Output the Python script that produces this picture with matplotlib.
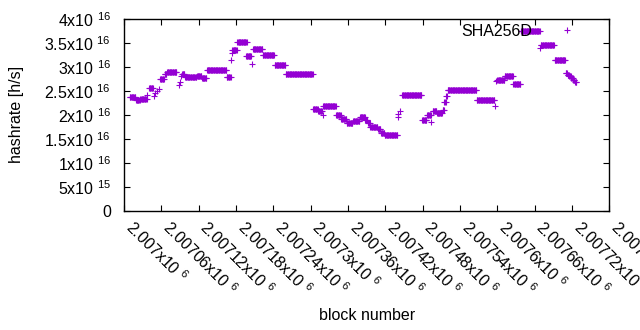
import numpy as np
import matplotlib
matplotlib.use('Agg')
import matplotlib.pyplot as plt

plt.rcParams.update({
    'font.family': ['Liberation Sans', 'DejaVu Sans'],
    'font.size': 11.5,
    'mathtext.fontset': 'custom',
    'mathtext.rm': 'Liberation Sans',
    'mathtext.default': 'regular',
})

PURPLE = '#9400d3'

# runs of blocks with the same estimated hashrate (units of 1e16 h/s)
run_start = [2007009, 2007019, 2007026, 2007037, 2007040, 2007048, 2007050, 2007053,
             2007056, 2007058, 2007065, 2007069, 2007088, 2007090, 2007092, 2007093,
             2007098, 2007117, 2007125, 2007133, 2007165, 2007172, 2007173, 2007174,
             2007182, 2007196, 2007205, 2007207, 2007223, 2007242, 2007260, 2007304,
             2007312, 2007319, 2007320, 2007341, 2007349, 2007358, 2007368, 2007379,
             2007388, 2007392, 2007396, 2007408, 2007413, 2007419, 2007440, 2007441,
             2007443, 2007447, 2007479, 2007487, 2007494, 2007496, 2007503, 2007512,
             2007515, 2007518, 2007520, 2007567, 2007597, 2007598, 2007600, 2007612,
             2007626, 2007638, 2007669, 2007670, 2007692, 2007710, 2007713, 2007716,
             2007719, 2007722, 2007725]
run_end = [2007018, 2007025, 2007036, 2007037, 2007046, 2007048, 2007050, 2007053,
           2007056, 2007064, 2007068, 2007084, 2007088, 2007090, 2007092, 2007097,
           2007116, 2007124, 2007132, 2007164, 2007171, 2007172, 2007173, 2007181,
           2007197, 2007204, 2007205, 2007222, 2007241, 2007259, 2007303, 2007311,
           2007318, 2007319, 2007340, 2007348, 2007357, 2007367, 2007378, 2007387,
           2007391, 2007395, 2007407, 2007412, 2007418, 2007439, 2007440, 2007441,
           2007443, 2007478, 2007486, 2007493, 2007494, 2007502, 2007511, 2007514,
           2007517, 2007519, 2007566, 2007595, 2007597, 2007598, 2007611, 2007625,
           2007637, 2007668, 2007669, 2007691, 2007709, 2007712, 2007715, 2007718,
           2007721, 2007724, 2007727]
run_value = [2.37, 2.31, 2.34, 2.41, 2.55, 2.39, 2.46, 2.50,
             2.53, 2.74, 2.85, 2.89, 2.62, 2.69, 2.80, 2.85,
             2.78, 2.81, 2.76, 2.94, 2.79, 3.15, 3.30, 3.36,
             3.52, 3.22, 3.06, 3.37, 3.24, 3.05, 2.85, 2.13,
             2.09, 2.00, 2.18, 1.99, 1.91, 1.84, 1.87, 1.95,
             1.90, 1.83, 1.75, 1.70, 1.62, 1.57, 1.95, 2.02,
             2.08, 2.42, 1.90, 1.99, 1.85, 2.08, 2.03, 2.10,
             2.27, 2.40, 2.51, 2.30, 2.18, 2.70, 2.72, 2.80,
             2.65, 3.75, 3.40, 3.45, 3.15, 2.88, 2.84, 2.80,
             2.76, 2.72, 2.69]

xtick_values = [2007000 + 60 * k for k in range(14)]
ytick_values = [0, 0.5e16, 1e16, 1.5e16, 2e16, 2.5e16, 3e16, 3.5e16, 4e16]
ytick_labels = ['0', '5x10 $^{15}$', '1x10 $^{16}$', '1.5x10 $^{16}$', '2x10 $^{16}$',
                '2.5x10 $^{16}$', '3x10 $^{16}$', '3.5x10 $^{16}$', '4x10 $^{16}$']

# one point per block
blocks, rates = [], []
for s, e, v in zip(run_start, run_end, run_value):
    b = np.arange(s, e + 1)
    blocks.extend(b)
    rates.extend([v * 1e16] * len(b))

fig = plt.figure(figsize=(6.4, 3.3), dpi=100)
ax = fig.add_axes([0.194, 0.3615, 0.758, 0.581])

ax.plot(blocks, rates, '+', color=PURPLE, ms=5, mew=0.8, label='SHA256D')

ax.set_xlim(2007000, 2007780)
ax.set_ylim(0, 4e16)
ax.set_xticks(xtick_values)
ax.set_xticklabels(['%gx10 $^{6}$' % (v / 1e6) for v in xtick_values],
                   rotation=-45, ha='left', va='baseline', rotation_mode='anchor')
ax.set_yticks(ytick_values)
ax.set_yticklabels(ytick_labels)
ax.tick_params(direction='in', length=4, width=0.8, top=True, right=True,
               colors='black')
ax.tick_params(axis='y', pad=9.5)
ax.tick_params(axis='x', pad=13)
for sp in ax.spines.values():
    sp.set_linewidth(1.0)

ax.set_ylabel('hashrate [h/s]')
ax.yaxis.set_label_coords(-0.2066, 0.5)
ax.set_xlabel('block number')
ax.xaxis.set_label_coords(0.5, -0.51)

ax.legend(loc='upper right', bbox_to_anchor=(0.962, 0.975), markerfirst=False,
          frameon=False, numpoints=1, handlelength=3, handletextpad=0.69,
          borderpad=0, borderaxespad=0)

plt.savefig('out.png', dpi=100)
plt.close()
